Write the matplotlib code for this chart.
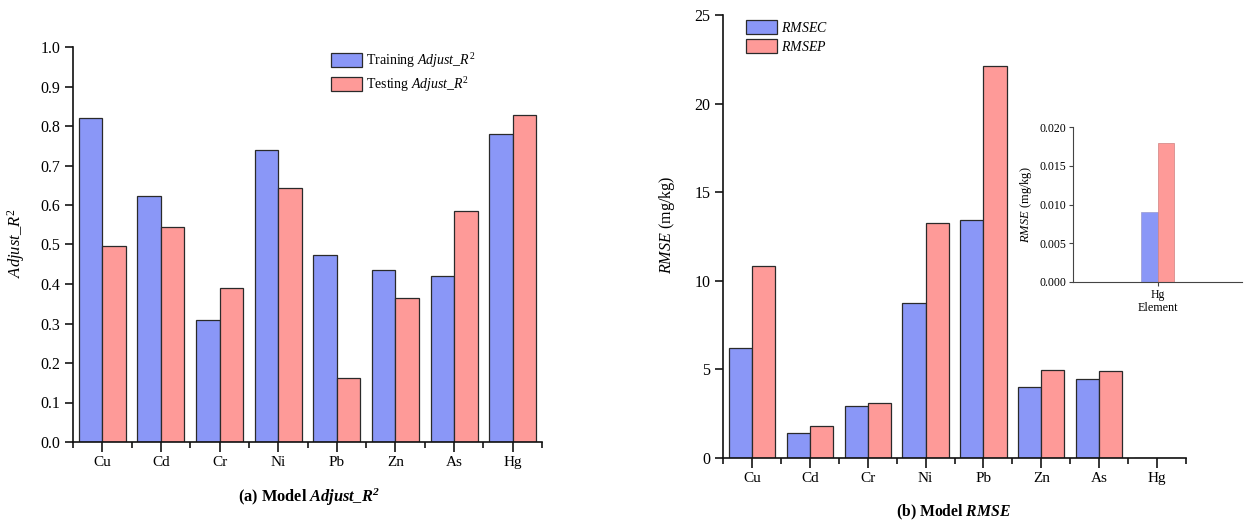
import matplotlib
matplotlib.use("Agg")
import matplotlib.pyplot as plt
import numpy as np
from matplotlib.ticker import MultipleLocator, FixedLocator

plt.rcParams['font.family'] = ['Liberation Serif', 'DejaVu Serif']
plt.rcParams['mathtext.fontset'] = 'custom'
plt.rcParams['mathtext.rm'] = 'Liberation Serif'
plt.rcParams['mathtext.it'] = 'Liberation Serif:italic'
plt.rcParams['mathtext.bf'] = 'Liberation Serif:bold:italic'

elements = ["Cu", "Cd", "Cr", "Ni", "Pb", "Zn", "As", "Hg"]
train_r2 = [0.821, 0.623, 0.309, 0.738, 0.474, 0.436, 0.420, 0.781]
test_r2 = [0.495, 0.544, 0.391, 0.642, 0.162, 0.364, 0.585, 0.827]
rmsec = [6.18, 1.42, 2.94, 8.76, 13.43, 3.99, 4.45, 0.009]
rmsep = [10.83, 1.83, 3.09, 13.27, 22.14, 4.99, 4.90, 0.018]
inset_cat = ["Hg"]
inset_c = [0.009]
inset_p = [0.018]

BLUE = "#8a97f7"
RED = "#fe9a98"
EDGE = "#2a2a2a"

W, H = 1247, 522
fig = plt.figure(figsize=(W / 100, H / 100), dpi=100)

def fr(x0, y0, x1, y1):
    return [x0 / W, 1 - y1 / H, (x1 - x0) / W, (y1 - y0) / H]

def style_main(ax, ymax, ystep):
    for s in ["top", "right"]:
        ax.spines[s].set_visible(False)
    for s in ["left", "bottom"]:
        ax.spines[s].set_linewidth(1.2)
        ax.spines[s].set_color("#111111")
    ax.set_xlim(0.5, 8.5)
    ax.set_ylim(0, ymax)
    ax.yaxis.set_major_locator(MultipleLocator(ystep))
    ax.xaxis.set_major_locator(FixedLocator(np.arange(1, 9)))
    ax.xaxis.set_minor_locator(FixedLocator(np.arange(0.5, 9.0, 1.0)))
    ax.set_xticklabels(elements)
    ax.tick_params(axis="y", direction="out", length=6, width=1.1, labelsize=11.5, pad=3)
    ax.tick_params(axis="x", which="major", direction="out", length=7, width=1.1, labelsize=11, pad=3)
    ax.tick_params(axis="x", which="minor", direction="out", length=4, width=1.1)

x = np.arange(1, len(elements) + 1)
bw = 0.4
leg_kw = dict(bbox_transform=fig.transFigure, frameon=False, fontsize=10,
              handlelength=2.23, handleheight=1.15, handletextpad=0.3,
              labelspacing=0.35, borderpad=0, borderaxespad=0, loc="upper left")

# (a) Adjust R2
ax1 = fig.add_axes(fr(73, 47, 542, 442))
ax1.bar(x - bw / 2, train_r2, bw, color=BLUE, edgecolor=EDGE, linewidth=0.9,
        label=r"Training $\mathit{Adjust\_R}^2$")
ax1.bar(x + bw / 2, test_r2, bw, color=RED, edgecolor=EDGE, linewidth=0.9,
        label=r"Testing $\mathit{Adjust\_R}^2$")
style_main(ax1, 1.0, 0.1)
ax1.yaxis.set_major_formatter(matplotlib.ticker.FormatStrFormatter("%.1f"))
ax1.set_ylabel(r"$\mathit{Adjust\_R}^2$", fontsize=12)
ax1.yaxis.set_label_coords(-0.098, 0.504)
ax1.legend(bbox_to_anchor=(331 / W, 1 - 51 / H), **leg_kw)
fig.text(309 / W, 1 - 497 / H, r"(a) Model $\mathbf{Adjust\_R^2}$", ha="center", va="center",
         fontsize=11.8, fontweight="bold")

# (b) RMSE
ax2 = fig.add_axes(fr(723, 15, 1186, 458))
ax2.bar(x - bw / 2, rmsec, bw, color=BLUE, edgecolor=EDGE, linewidth=0.9,
        label=r"$\mathit{RMSEC}$")
ax2.bar(x + bw / 2, rmsep, bw, color=RED, edgecolor=EDGE, linewidth=0.9,
        label=r"$\mathit{RMSEP}$")
style_main(ax2, 25, 5)
ax2.set_ylabel(r"$\mathit{RMSE}$ (mg/kg)", fontsize=11.6)
ax2.yaxis.set_label_coords(-0.099, 0.526)
ax2.legend(bbox_to_anchor=(746 / W, 1 - 20 / H), **leg_kw)
fig.text(954 / W, 1 - 512 / H, r"(b) Model $\mathbf{RMSE}$", ha="center", va="center",
         fontsize=11.3, fontweight="bold")

# inset
ax3 = fig.add_axes(fr(1073, 127, 1242, 282))
xi = np.arange(len(inset_cat))
ax3.bar(xi - bw / 2, inset_c, bw, color=BLUE, edgecolor="#9a9ad0", linewidth=0.5)
ax3.bar(xi + bw / 2, inset_p, bw, color=RED, edgecolor="#d08080", linewidth=0.5)
ax3.set_xlim(-2, 2)
ax3.set_ylim(0, 0.020)
ax3.yaxis.set_major_locator(MultipleLocator(0.005))
ax3.yaxis.set_major_formatter(matplotlib.ticker.FormatStrFormatter("%.3f"))
ax3.set_xticks(xi)
ax3.set_xticklabels(inset_cat)
for s in ["top", "right"]:
    ax3.spines[s].set_visible(False)
for s in ["left", "bottom"]:
    ax3.spines[s].set_linewidth(0.8)
    ax3.spines[s].set_color("#444444")
ax3.tick_params(axis="both", direction="out", length=3, width=0.8, labelsize=8.5, pad=2, color="#444444")
ax3.set_xlabel("Element", fontsize=8.7, labelpad=1)
ax3.set_ylabel(r"$\mathit{RMSE}$ (mg/kg)", fontsize=9, labelpad=4)

fig.savefig("out.png", dpi=100)
